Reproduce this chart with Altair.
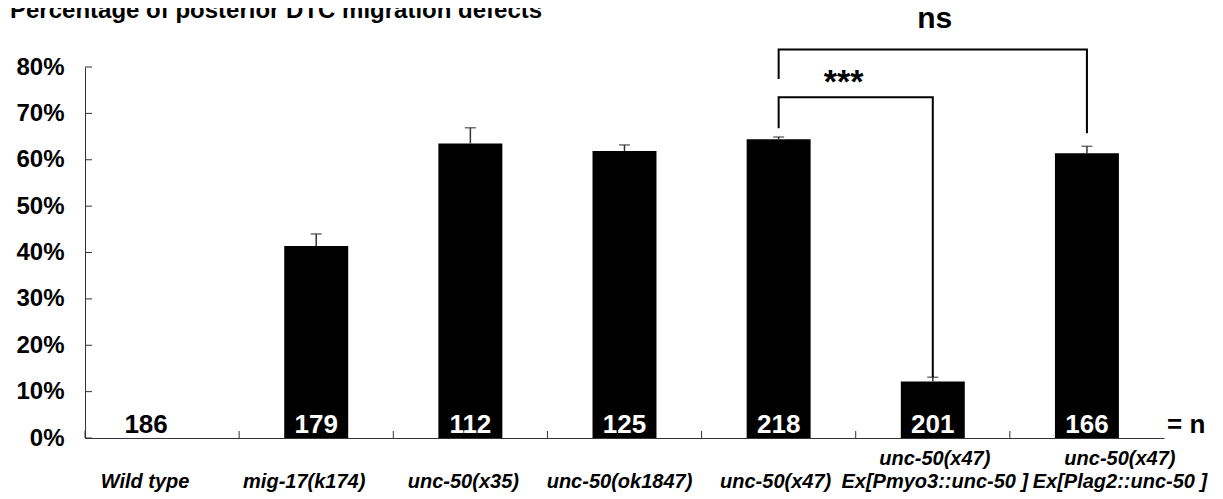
import altair as alt
import pandas as pd

# ---------------- data ----------------
categories = [
    "Wild type",
    "mig-17(k174)",
    "unc-50(x35)",
    "unc-50(ok1847)",
    "unc-50(x47)",
    "unc-50(x47)|Ex[Pmyo3::unc-50 ]",
    "unc-50(x47)|Ex[Plag2::unc-50 ]",
]
percent = [0.0, 41.4, 63.5, 61.9, 64.4, 12.2, 61.4]
error = [0.0, 2.6, 3.4, 1.3, 0.5, 0.9, 1.5]
n_counts = [186, 179, 112, 125, 218, 201, 166]
y_ticks = [0, 10, 20, 30, 40, 50, 60, 70, 80]

ns_bracket_cat = [categories[4], categories[4], categories[6], categories[6]]
ns_bracket_val = [77.4, 83.8, 83.8, 65.7]
star_bracket_cat = [categories[4], categories[4], categories[5], categories[5]]
star_bracket_val = [66.8, 73.5, 73.5, 13.1]

star_label = "***"
star_val = 74.4
ns_label = "ns"
ns_val = 88.4
n_suffix = "= n"
title_text = "Percentage of posterior DTC migration defects"

# ---------------- layout ----------------
W, H = 1079, 371
FONT = "Liberation Sans"
AX = "#333333"

df = pd.DataFrame({"cat": categories, "pct": percent, "err": error, "n": n_counts})
df["top"] = df["pct"] + df["err"]

brackets = pd.DataFrame({
    "group": ["ns"] * 4 + ["star"] * 4,
    "step": [0, 1, 2, 3] * 2,
    "cat": ns_bracket_cat + star_bracket_cat,
    "val": ns_bracket_val + star_bracket_val,
})

y_scale = alt.Scale(domain=[0, 80], nice=False, zero=True)
x_scale = alt.Scale(paddingInner=0, paddingOuter=0)

x_axis = alt.Axis(
    title=None,
    labelExpr="indexof(datum.label, '|') >= 0 ? split(datum.label, '|') : ['', datum.label]",
    labelAngle=0,
    labelFont=FONT,
    labelFontSize=20,
    labelFontWeight="bold",
    labelFontStyle="italic",
    labelColor="black",
    labelBaseline="alphabetic",
    labelLineHeight=23,
    labelPadding=26,
    labelLimit=400,
    labelOverlap=False,
    labelOffset={
        "condition": [
            {"test": "datum.value === 'Wild type'", "value": -17},
            {"test": "datum.value === 'mig-17(k174)'", "value": -12},
            {"test": "datum.value === 'unc-50(x35)'", "value": -7},
            {"test": "datum.value === 'unc-50(ok1847)'", "value": -5},
            {"test": "datum.value === 'unc-50(x47)|Ex[Pmyo3::unc-50 ]'", "value": 2},
            {"test": "datum.value === 'unc-50(x47)|Ex[Plag2::unc-50 ]'", "value": 33},
        ],
        "value": -3,
    },
    ticks=False,
    domainColor=AX,
    domainWidth=1,
    grid=False,
)
y_axis = alt.Axis(
    title=None,
    values=y_ticks,
    labelExpr="datum.value + '%'",
    labelFont=FONT,
    labelFontSize=24,
    labelFontWeight="bold",
    labelColor="black",
    labelPadding=21,
    ticks=False,
    domainColor=AX,
    domainWidth=1,
    grid=False,
)

X = alt.X("cat:N", sort=categories, scale=x_scale, axis=x_axis, title=None)
Xp = alt.X("cat:N", sort=categories)

bars = alt.Chart(df).mark_bar(color="black", width=alt.RelativeBandSize(0.415)).encode(
    x=X, y=alt.Y("pct:Q", scale=y_scale, axis=y_axis)
)

err_df = df[df["err"] > 0]
err_rule = alt.Chart(err_df).mark_rule(color=AX, strokeWidth=1.5).encode(
    x=Xp, y="pct:Q", y2="top:Q"
)
err_cap = alt.Chart(err_df).mark_tick(color=AX, thickness=1.5, size=11).encode(
    x=Xp, y="top:Q"
)

n_white = alt.Chart(df[df["pct"] > 0]).mark_text(
    font=FONT, fontSize=26, fontWeight="bold", color="white", baseline="alphabetic", dy=-5
).encode(x=Xp, y=alt.datum(0), text="n:Q")
n_black = alt.Chart(df[df["pct"] <= 0]).mark_text(
    font=FONT, fontSize=26, fontWeight="bold", color="black", baseline="alphabetic", dy=-5, dx=-16
).encode(x=Xp, y=alt.datum(0), text="n:Q")

n_eq = alt.Chart(pd.DataFrame({"t": [n_suffix]})).mark_text(
    font=FONT, fontSize=26, fontWeight="bold", color="black", align="left", baseline="alphabetic", dy=-5
).encode(x=alt.value(W + 3), y=alt.datum(0), text="t:N")

bracket_lines = alt.Chart(brackets).mark_line(color="black", strokeWidth=2).encode(
    x=Xp, y="val:Q", detail="group:N", order="step:Q"
)

star_text = alt.Chart(pd.DataFrame({"cat": [categories[4]], "val": [star_val], "t": [star_label]})).mark_text(
    font=FONT, fontSize=34, fontWeight="bold", color="black", baseline="alphabetic", dx=-12
).encode(x=alt.X("cat:N", sort=categories, bandPosition=1), y="val:Q", text="t:N")

ns_text = alt.Chart(pd.DataFrame({"cat": [categories[5]], "val": [ns_val], "t": [ns_label]})).mark_text(
    font=FONT, fontSize=30, fontWeight="bold", color="black", baseline="alphabetic", dx=2
).encode(x=Xp, y="val:Q", text="t:N")

y_tick_marks = alt.Chart(pd.DataFrame({"v": y_ticks})).mark_rule(color=AX, strokeWidth=1).encode(
    y="v:Q", x=alt.value(0), x2=alt.value(7)
)
x_tick_marks = alt.Chart(df).mark_rule(color=AX, strokeWidth=1).encode(
    x=alt.X("cat:N", sort=categories, bandPosition=0), y=alt.value(H), y2=alt.value(H - 7)
)

title = alt.Chart(pd.DataFrame({"t": [title_text]})).mark_text(
    font=FONT, fontSize=24, fontWeight="bold", color="black", align="left", baseline="alphabetic"
).encode(x=alt.value(-75), y=alt.value(-49), text="t:N")

chart = alt.layer(
    bars, err_rule, err_cap, n_white, n_black, n_eq, bracket_lines,
    star_text, ns_text, y_tick_marks, x_tick_marks, title,
).properties(
    width=W,
    height=H,
    padding={"left": 77, "top": 59, "right": 51, "bottom": 58},
    autosize=alt.AutoSizeParams(type="none"),
    background="white",
).configure_view(stroke=None)

chart.save("out.html", embed_options={"renderer": "svg", "actions": False})
